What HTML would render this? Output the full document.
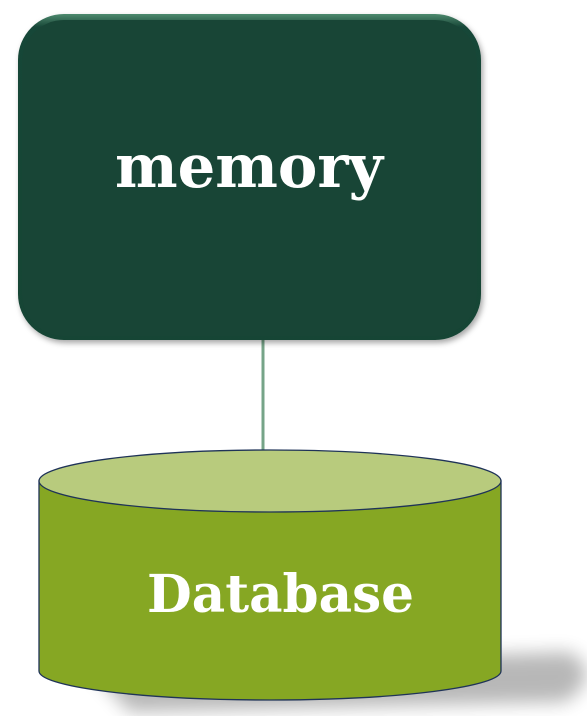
<!DOCTYPE html>
<html><head><style>
html,body{margin:0;padding:0;background:#fff;width:587px;height:716px;overflow:hidden}
</style></head><body>
<svg width="587" height="716" viewBox="0 0 587 716" xmlns="http://www.w3.org/2000/svg">
<defs>
<filter id="blur" x="-20%" y="-50%" width="140%" height="200%"><feGaussianBlur stdDeviation="9"/></filter>
<filter id="bs" x="-10%" y="-10%" width="120%" height="130%"><feDropShadow dx="2" dy="3" stdDeviation="3" flood-color="#000" flood-opacity="0.35"/></filter>
<linearGradient id="edge" x1="0" y1="0" x2="0" y2="1">
<stop offset="0" stop-color="#4d8a6e"/><stop offset="0.04" stop-color="#184637"/><stop offset="1" stop-color="#174535"/>
</linearGradient>
</defs>
<line x1="263" y1="338" x2="263" y2="452" stroke="#76a488" stroke-width="3"/>
<rect x="18" y="14" width="463" height="326" rx="46" fill="url(#edge)" filter="url(#bs)"/>
<rect x="22" y="20" width="455" height="316" rx="42" fill="#184536"/>
<text x="115" y="187" textLength="268" lengthAdjust="spacingAndGlyphs" font-family="DejaVu Serif, serif" font-weight="bold" font-size="60" fill="#fff">memory</text>
<path d="M90 668 L570 652 Q605 675 565 702 L130 712 Z" fill="#000" opacity="0.28" filter="url(#blur)"/>
<path d="M39 481 L39 671 A231 29 0 0 0 501 671 L501 481 Z" fill="#86a723" stroke="#1f3358" stroke-width="1.3"/>
<ellipse cx="270" cy="481" rx="231" ry="31" fill="#b8cb7d" stroke="#1f3358" stroke-width="1.3"/>
<text x="147" y="612" textLength="267" lengthAdjust="spacingAndGlyphs" font-family="DejaVu Serif, serif" font-weight="bold" font-size="52" fill="#fff">Database</text>
</svg>
</body></html>
